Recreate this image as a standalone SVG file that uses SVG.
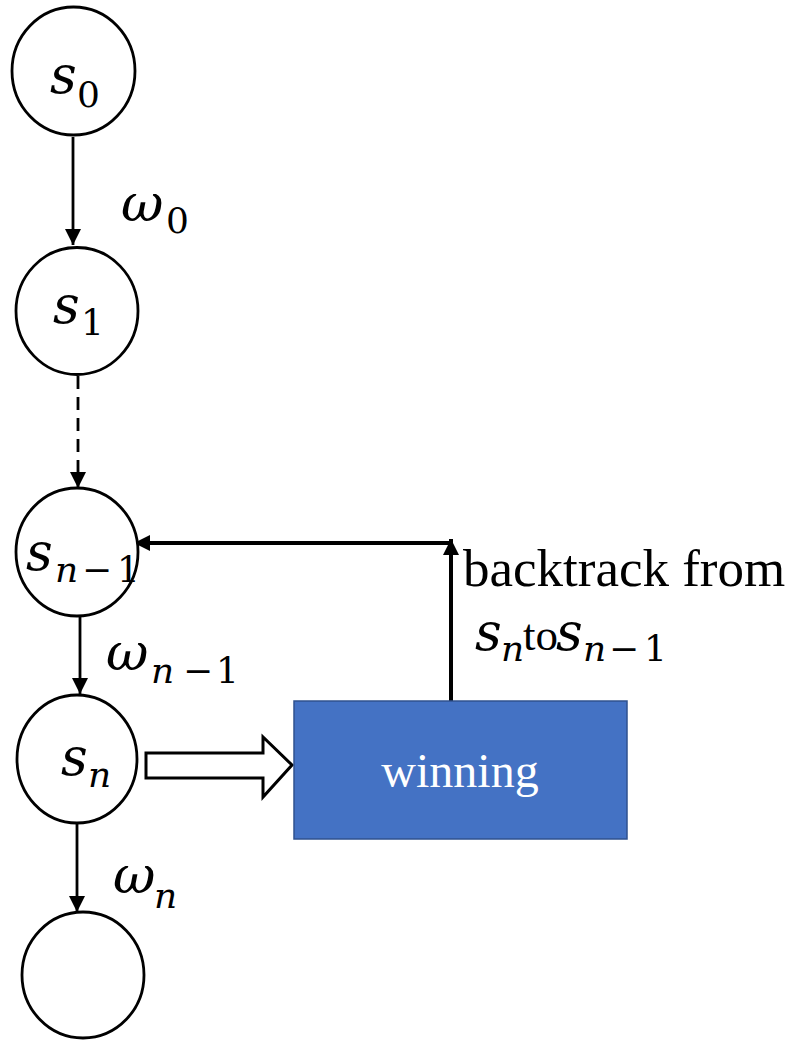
<svg xmlns="http://www.w3.org/2000/svg" width="795" height="1040" viewBox="0 0 795 1040">
  <style>
    .state { fill: #ffffff; stroke: #000000; stroke-width: 2.8; }
    .edge { stroke: #000000; stroke-width: 2.8; fill: none; }
    .back { stroke: #000000; stroke-width: 4; fill: none; }
    .serif { font-family: 'Liberation Serif', Tinos, 'Times New Roman', Times, 'Noto Serif', 'DejaVu Serif', FreeSerif, serif; }
    .math { font-family: 'DejaVu Serif', 'Noto Serif', 'Liberation Serif', Tinos, FreeSerif, serif; }
  </style>
  <defs>
    <marker id="head" markerUnits="userSpaceOnUse" markerWidth="16" markerHeight="16" viewBox="0 0 16 16" refX="16" refY="8" orient="auto">
      <path d="M0,0 L16,8 L0,16 Z" fill="#000000"/>
    </marker>
  </defs>

  <!-- connectors -->
  <g id="connectors">
    <line class="edge" x1="73" y1="137" x2="73" y2="245" marker-end="url(#head)"/>
    <line class="edge" x1="78" y1="376" x2="78" y2="488" stroke-dasharray="13 8" marker-end="url(#head)"/>
    <line class="edge" x1="80" y1="617" x2="80" y2="694" marker-end="url(#head)"/>
    <line class="edge" x1="77" y1="824" x2="77" y2="912" marker-end="url(#head)"/>
    <!-- backtrack path: up from the box, then left to s_{n-1} -->
    <line class="back" x1="451" y1="701" x2="451" y2="539" marker-end="url(#head)"/>
    <line class="back" x1="451" y1="543" x2="134" y2="543" marker-end="url(#head)"/>
    <!-- hollow block arrow from s_n to the box -->
    <path d="M146,753 L263,753 L263,737 L292,765 L263,797 L263,778 L146,778 Z" fill="#ffffff" stroke="#000000" stroke-width="3" stroke-linejoin="miter"/>
  </g>

  <!-- math labels: italic letters, upright digits -->
  <g class="math" fill="#000000">
    <g id="s0">
      <ellipse class="state" cx="73.5" cy="71" rx="61.5" ry="64"/>
      <text x="50" y="93" font-size="52" font-style="italic">s</text>
      <text x="77" y="107" font-size="36">0</text>
    </g>

    <g id="s1">
      <ellipse class="state" cx="77" cy="311" rx="61" ry="63.5"/>
      <text x="53" y="323" font-size="52" font-style="italic">s</text>
      <text x="81" y="335" font-size="36">1</text>
    </g>

    <g id="sn-1">
      <ellipse class="state" cx="77" cy="552" rx="61" ry="64"/>
      <text x="26" y="570" font-size="52" font-style="italic">s</text>
      <text x="55" y="582" font-size="36" font-style="italic">n</text>
      <text x="97" y="582" font-size="36" text-anchor="middle">−</text>
      <text x="117" y="582" font-size="36">1</text>
    </g>

    <g id="sn">
      <ellipse class="state" cx="77" cy="759" rx="60" ry="64"/>
      <text x="61" y="775" font-size="52" font-style="italic">s</text>
      <text x="88" y="787" font-size="36" font-style="italic">n</text>
    </g>

    <g id="s-next">
      <ellipse class="state" cx="83" cy="975" rx="61" ry="63"/>
    </g>

    <g id="edge-labels">
      <text x="121" y="221" font-size="52" font-style="italic">ω</text>
      <text x="166" y="233" font-size="36">0</text>

      <text x="106" y="670" font-size="52" font-style="italic">ω</text>
      <text x="151" y="683" font-size="36" font-style="italic">n</text>
      <text x="198" y="683" font-size="36" text-anchor="middle">−</text>
      <text x="216" y="683" font-size="36">1</text>

      <text x="113" y="893" font-size="52" font-style="italic">ω</text>
      <text x="154" y="908" font-size="36" font-style="italic">n</text>
    </g>

    <g id="backtrack-label">
      <text class="serif" x="463" y="586" font-size="53">backtrack from</text>
      <text x="475" y="650" font-size="52" font-style="italic">s</text>
      <text x="501" y="661" font-size="36" font-style="italic">n</text>
      <text class="serif" x="523" y="650" font-size="45">to</text>
      <text x="556" y="650" font-size="52" font-style="italic">s</text>
      <text x="583" y="661" font-size="36" font-style="italic">n</text>
      <text x="624" y="661" font-size="36" text-anchor="middle">−</text>
      <text x="644" y="661" font-size="36">1</text>
    </g>
  </g>

  <g id="winning">
    <rect x="294" y="701" width="333" height="138" fill="#4472C4" stroke="#2F528F" stroke-width="1.5"/>
    <text class="serif" x="460" y="787" font-size="48" fill="#ffffff" text-anchor="middle">winning</text>
  </g>
</svg>
